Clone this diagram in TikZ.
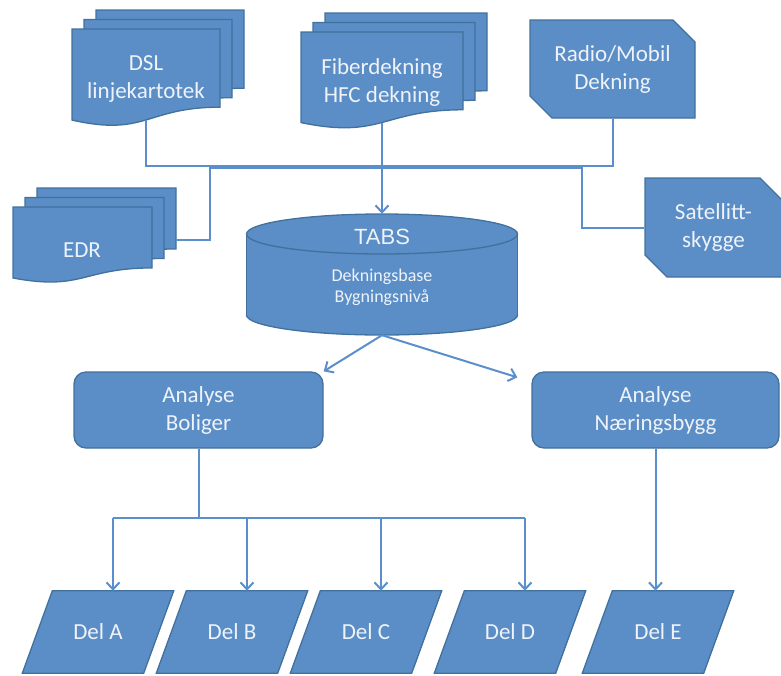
\documentclass[tikz,border=0pt]{standalone}
\usepackage{fontspec}
\setmainfont{Carlito}
\newfontfamily\tabsfont{Liberation Sans}
\usetikzlibrary{arrows.meta, shapes.misc, backgrounds}
\definecolor{shapefill}{HTML}{5B8DC7}
\definecolor{shapeline}{HTML}{41719C}
\definecolor{wirecolor}{HTML}{5A8FCC}
\definecolor{textcolor}{HTML}{EEF3F9}

% one document sheet: top-left x, y, width, height
\newcommand{\docsheet}[4]{%
  \filldraw[sheet] (#1,#2) -- ({#1+#3},#2) -- ({#1+#3},{#2+0.802*#4})
    .. controls ({#1+0.5*#3},{#2+0.802*#4}) and ({#1+0.5*#3},{#2+1.107*#4}) .. (#1,{#2+0.934*#4}) -- cycle;}
% stack of three sheets
\newcommand{\multidoc}[4]{%
  \docsheet{#1+24}{#2-19}{#3}{#4}
  \docsheet{#1+12}{#2-9.5}{#3}{#4}
  \docsheet{#1}{#2}{#3}{#4}}

\begin{document}
\begin{tikzpicture}[
    x=1pt, y=-1pt,
    sheet/.style={draw=shapeline, fill=shapefill, line width=1.3pt},
    txt/.style={text=textcolor, font=\fontsize{23}{28}\selectfont, align=center},
    snip/.style={chamfered rectangle, chamfered rectangle corners={north east,south west},
      chamfered rectangle xsep=11pt, chamfered rectangle ysep=11pt, sheet, txt},
    flow/.style={rectangle, rounded corners=12pt, sheet, txt, minimum height=76pt},
    part/.style={txt, minimum width=121pt, minimum height=82pt},
    wire/.style={wirecolor, line width=2pt},
    arr/.style={wire, -{Straight Barb[length=7pt, width=13pt]}},
  ]
  \useasboundingbox (0,0) rectangle (781,675);

  % sources
  \multidoc{72}{29}{148}{97.5}
  \multidoc{301}{32}{162}{97}
  \multidoc{13}{207}{139}{76}
  \node[txt, minimum height=82pt] (dsl) at (146,79) {DSL\\linjekartotek};
  \node[txt, minimum height=82pt] (fiber) at (382,82) {Fiberdekning\\HFC dekning};
  \node[txt] (edr) at (82,250) {EDR};
  \node[snip, minimum width=165pt, minimum height=98pt] (radio) at (612.5,69) {Radio/Mobil\\Dekning};
  \node[snip, minimum width=137pt, minimum height=99pt] (sat) at (713.5,227.5) {Satellitt-\\skygge};

  % database
  \node[minimum width=271pt, minimum height=121pt] (tabs) at (382,274.5) {};
  \filldraw[sheet] (382,315) ellipse [x radius=135.5, y radius=20];
  \fill[shapefill] (246.5,234) rectangle (517.5,315);
  \draw[shapeline, line width=1.3pt] (246.5,234) -- (246.5,315) (517.5,234) -- (517.5,315);
  \filldraw[sheet] (382,234) ellipse [x radius=135.5, y radius=20];
  \node[txt, font=\tabsfont\fontsize{22}{26}\selectfont] (tabsname) at (382,237) {TABS};
  \node[txt, font=\fontsize{18}{21}\selectfont] (tabsinfo) at (382,287) {Dekningsbase\\Bygningsnivå};

  % analysis and parts
  \node[flow, minimum width=249pt] (boliger) at (198.5,410) {Analyse\\Boliger};
  \node[flow, minimum width=247pt] (naering) at (655.5,410) {Analyse\\Næringsbygg};
  \node[part] (dela) at (98,632) {Del A};
  \node[part] (delb) at (232,632) {Del B};
  \node[part] (delc) at (366,632) {Del C};
  \node[part] (deld) at (510,632) {Del D};
  \node[part] (dele) at (658,632) {Del E};
  \begin{scope}[on background layer]
    \foreach \d in {dela,delb,delc,deld,dele}
      \filldraw[sheet] ([xshift=15pt]\d.north west) -- ([xshift=15pt]\d.north east)
        -- ([xshift=-15pt]\d.south east) -- ([xshift=-15pt]\d.south west) -- cycle;
  \end{scope}

  % connectors into the base
  \coordinate (joina) at (382,166);
  \coordinate (joinb) at (382,168);
  \coordinate (edrport) at (176,240);
  \coordinate (edrbend) at (210,168);
  \coordinate (satbend) at (582,168);
  \draw[wire] (dsl.south) |- (joina);
  \draw[wire] (radio.south) |- (joina);
  \draw[wire] (edrport) -| (edrbend) -- (joinb);
  \draw[wire] (sat.west) -| (satbend) -- (joinb);
  \draw[arr] (fiber.south) -- (tabs.north);

  \draw[arr] (tabs.south) -- (boliger.north east);
  \draw[arr] (tabs.south) -- ([xshift=-14pt, yshift=-6pt]naering.north west);

  % split to the parts
  \coordinate (fork) at (198.5,518);
  \draw[wire] (boliger.south) -- (fork);
  \draw[wire] ([xshift=15pt]dela.north |- fork) -- ([xshift=15pt]deld.north |- fork);
  \foreach \d in {dela,delb,delc,deld}
    \draw[arr] ([xshift=15pt]\d.north |- fork) -- ([xshift=15pt]\d.north);
  \draw[arr] (naering.south) -- (naering.south |- dele.north);
\end{tikzpicture}
\end{document}
